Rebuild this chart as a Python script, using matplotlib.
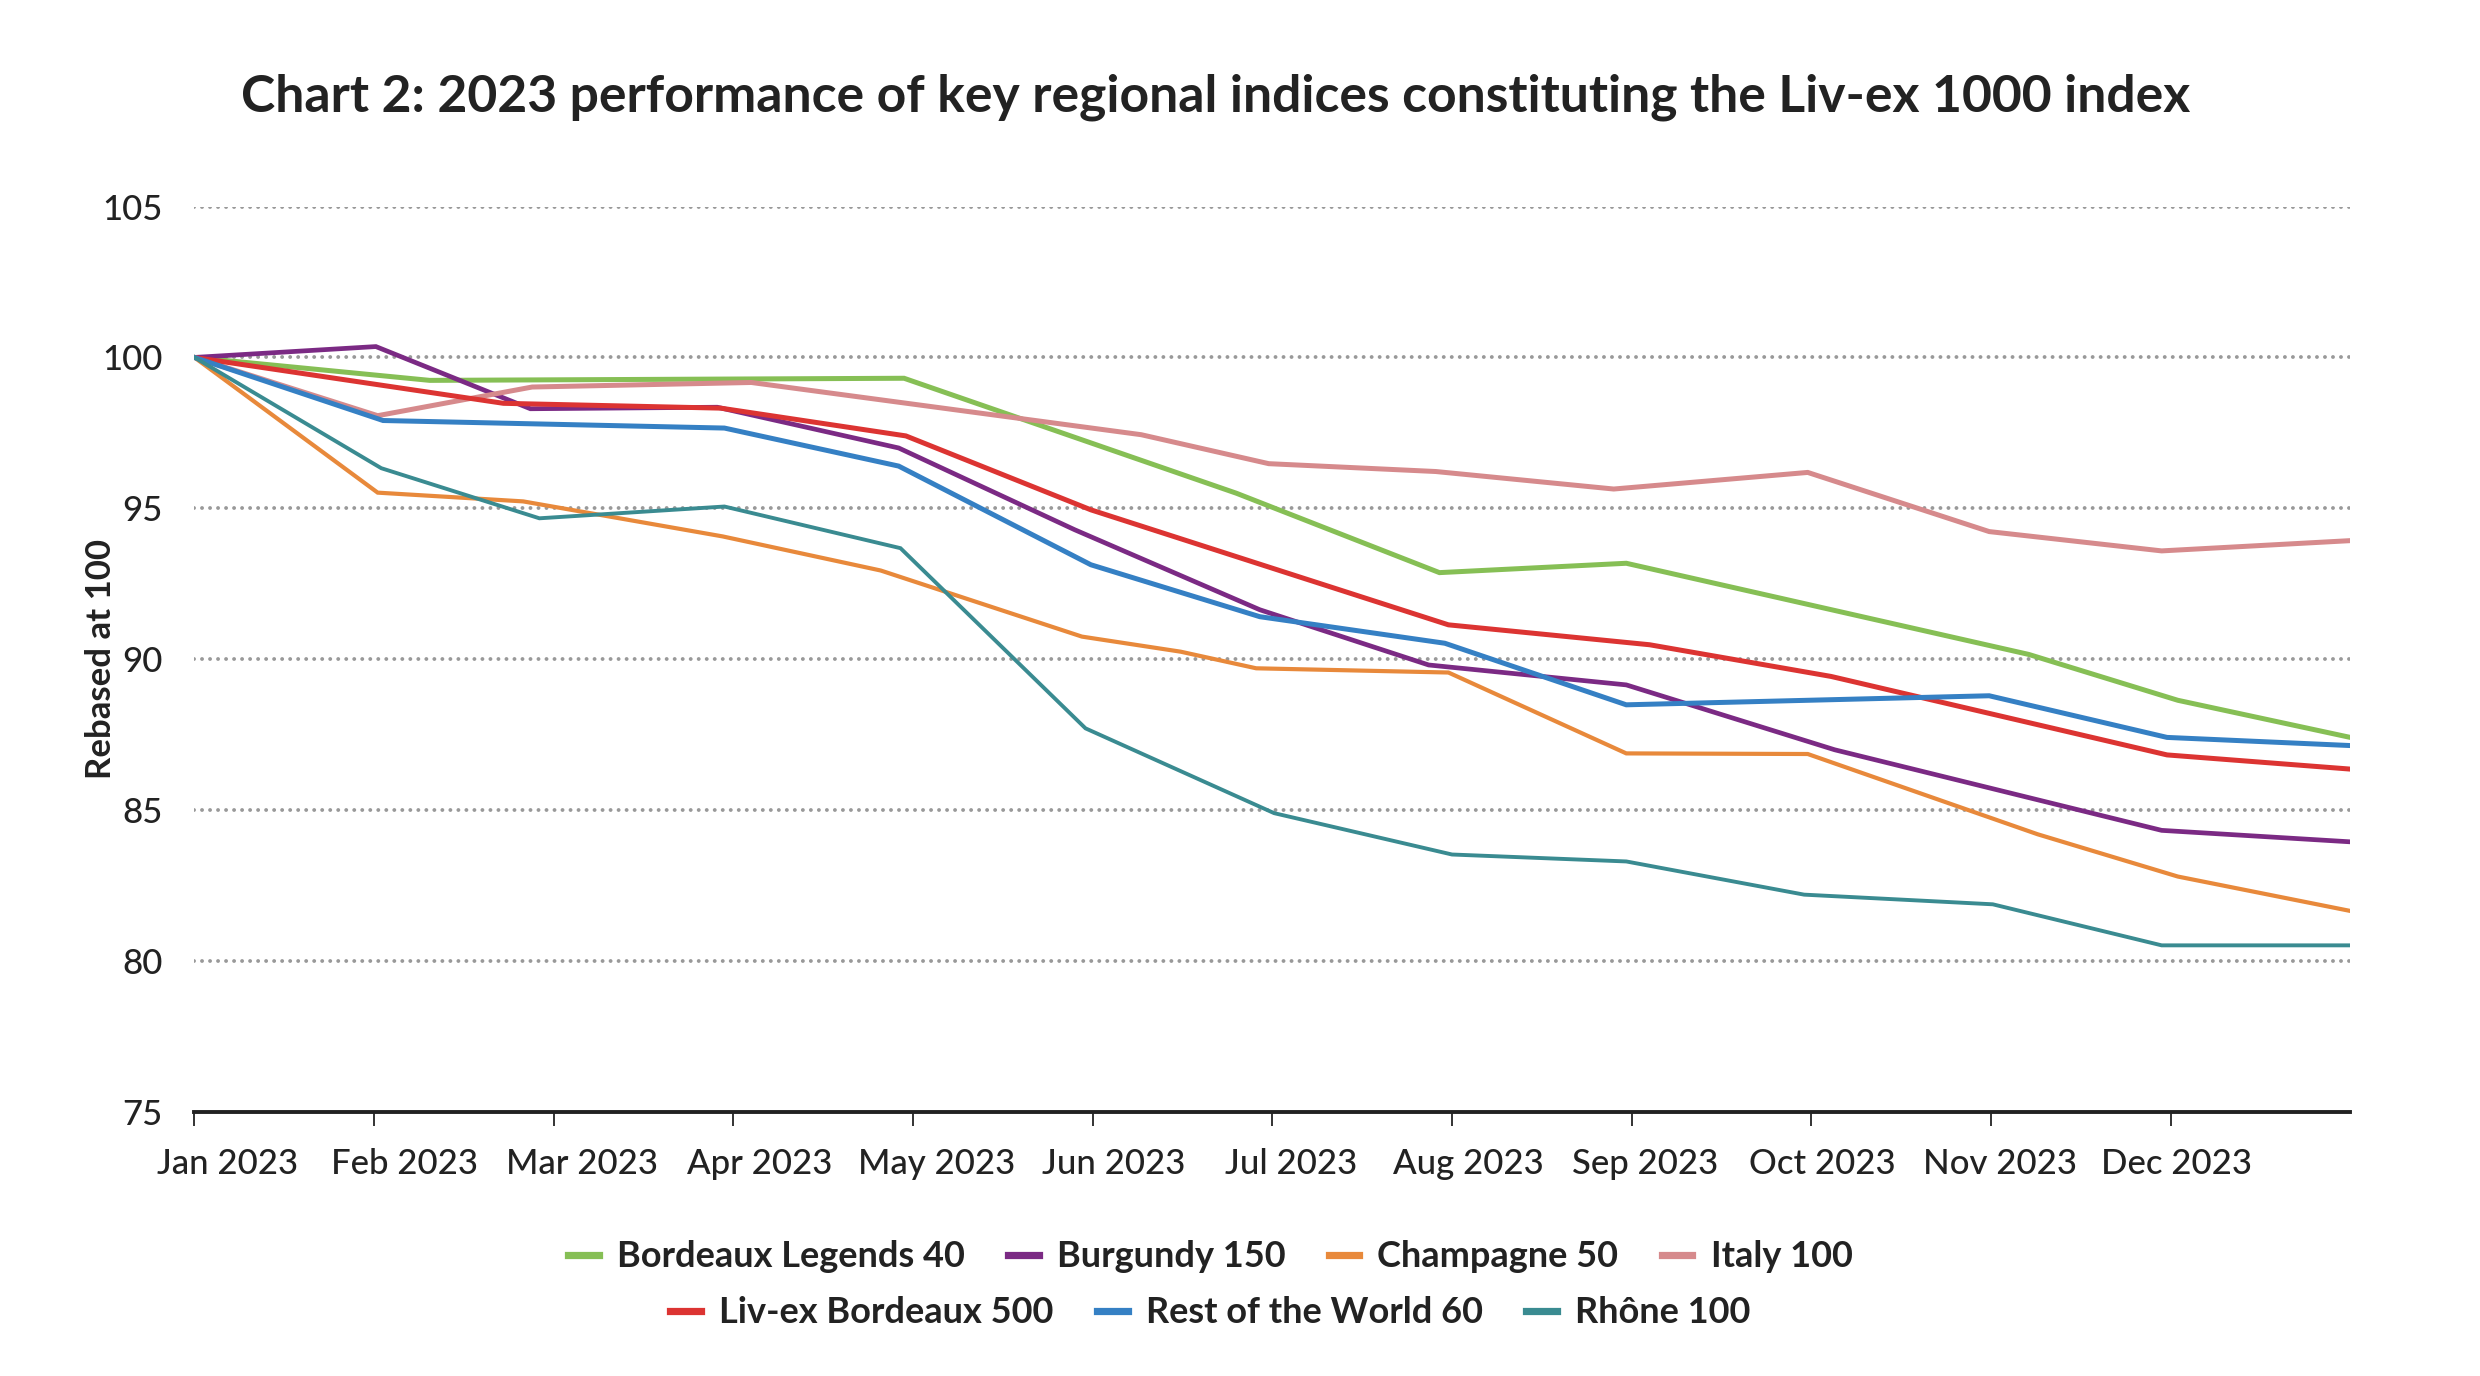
import matplotlib
matplotlib.use("Agg")
import matplotlib.pyplot as plt
import matplotlib.transforms as mtransforms
from matplotlib.lines import Line2D

plt.rcParams['font.family'] = ['Lato', 'DejaVu Sans']

# x positions are in months from Jan 2023 (0 = Jan, 12 = end of Dec)
months = ['Jan 2023', 'Feb 2023', 'Mar 2023', 'Apr 2023', 'May 2023', 'Jun 2023',
          'Jul 2023', 'Aug 2023', 'Sep 2023', 'Oct 2023', 'Nov 2023', 'Dec 2023']

legends_x = [0, 1.31, 3.95, 5.8, 6.93, 7.97, 10.21, 11.04, 12]
legends_y = [100, 99.24, 99.31, 95.5, 92.87, 93.18, 90.16, 88.64, 87.41]

burgundy_x = [0, 1.01, 1.87, 2.91, 3.92, 4.9, 5.93, 6.87, 7.97, 9.13, 10.95, 12]
burgundy_y = [100, 100.36, 98.30, 98.35, 97.0, 94.29, 91.64, 89.81, 89.15, 87.0, 84.33, 83.95]

champagne_x = [0, 1.02, 1.83, 2.94, 3.82, 4.94, 5.49, 5.91, 6.98, 7.97, 8.98, 10.26, 11.04, 12]
champagne_y = [100, 95.52, 95.23, 94.07, 92.94, 90.75, 90.25, 89.70, 89.56, 86.88, 86.86, 84.2, 82.8, 81.66]

italy_x = [0, 1.02, 1.88, 3.1, 5.27, 5.98, 6.91, 7.90, 8.98, 9.99, 10.95, 12]
italy_y = [100, 98.07, 99.02, 99.17, 97.44, 96.48, 96.22, 95.64, 96.19, 94.23, 93.59, 93.93]

bdx500_x = [0, 1.72, 2.93, 3.96, 4.99, 6.98, 8.10, 9.11, 10.98, 12]
bdx500_y = [100, 98.48, 98.32, 97.4, 94.95, 91.14, 90.48, 89.43, 86.83, 86.36]

row_x = [0, 1.05, 2.95, 3.92, 4.99, 5.93, 6.96, 7.97, 9.99, 10.98, 12]
row_y = [100, 97.91, 97.66, 96.4, 93.13, 91.41, 90.53, 88.49, 88.79, 87.41, 87.14]

rhone_x = [0, 1.04, 1.92, 2.95, 3.93, 4.96, 6.01, 7.0, 7.97, 8.96, 10.01, 10.95, 12]
rhone_y = [100, 96.33, 94.67, 95.06, 93.68, 87.71, 84.9, 83.53, 83.3, 82.2, 81.88, 80.52, 80.52]

series = [
    ('Bordeaux Legends 40', legends_x, legends_y, '#86bf55', 1.8),
    ('Burgundy 150', burgundy_x, burgundy_y, '#7b2a84', 1.7),
    ('Champagne 50', champagne_x, champagne_y, '#e8893b', 1.5),
    ('Italy 100', italy_x, italy_y, '#d68a8c', 1.8),
    ('Liv-ex Bordeaux 500', bdx500_x, bdx500_y, '#dc3432', 1.8),
    ('Rest of the World 60', row_x, row_y, '#3580c4', 1.8),
    ('Rhône 100', rhone_x, rhone_y, '#3a8b91', 1.4),
]

fig = plt.figure(figsize=(12.4, 6.88), dpi=200)
ax = fig.add_axes([0.0784, 0.1919, 0.8693, 0.658])

for name, xs, ys, col, lw in series:
    ax.plot(xs, ys, color=col, lw=lw, label=name, solid_joinstyle='miter')

ax.set_xlim(0, 12)
ax.set_ylim(75, 105)
ax.set_yticks([75, 80, 85, 90, 95, 100, 105])
for v in [80, 85, 90, 95, 100, 105]:
    ax.axhline(v, color='#999999', lw=1.4, linestyle=(0, (0.01, 2.05)),
               dash_capstyle='round', zorder=0)

ax.set_xticks(range(12))
ax.set_xticklabels(months)
for s in ['top', 'right', 'left']:
    ax.spines[s].set_visible(False)
ax.spines['bottom'].set_linewidth(1.4)
ax.spines['bottom'].set_color('#222222')
ax.tick_params(axis='x', length=5, width=0.7, color='#333333', pad=8,
               labelsize=12.5, labelcolor='#222222')
ax.tick_params(axis='y', length=0, pad=11.5, labelsize=12.5, labelcolor='#222222')
for lbl in ax.get_xticklabels() + ax.get_yticklabels():
    lbl.set_fontweight('medium')

# month labels drift: Jan sits well right of its tick, Dec nearly on it
for i, lbl in enumerate(ax.get_xticklabels()):
    dx = (21 - 1.55 * i) * 0.0079
    shift = mtransforms.ScaledTranslation(dx, 0, fig.dpi_scale_trans)
    lbl.set_transform(lbl.get_transform() + shift)

ax.set_ylabel('Rebased at 100', fontsize=12.5, fontweight='bold', color='#222222')
ax.yaxis.set_label_coords(-0.0357, 0.5)

fig.text(0.49, 0.929, 'Chart 2: 2023 performance of key regional indices constituting the Liv-ex 1000 index',
         ha='center', va='center', fontsize=18.6, fontweight='bold', color='#222222')

handles = [Line2D([0], [0], color=c, lw=2.6) for _, _, _, c, _ in series]
names = [n for n, _, _, _, _ in series]
leg_kw = dict(loc='center', frameon=False, handlelength=0.85, handletextpad=0.5,
              columnspacing=1.2, prop={'size': 13, 'weight': 'bold'})
leg1 = fig.legend(handles[:4], names[:4], ncol=4, bbox_to_anchor=(0.488, 0.0865), **leg_kw)
leg2 = fig.legend(handles[4:], names[4:], ncol=3, bbox_to_anchor=(0.488, 0.0458), **leg_kw)
for lg in (leg1, leg2):
    for t in lg.get_texts():
        t.set_color('#222222')

fig.savefig('out.png', dpi=200)
